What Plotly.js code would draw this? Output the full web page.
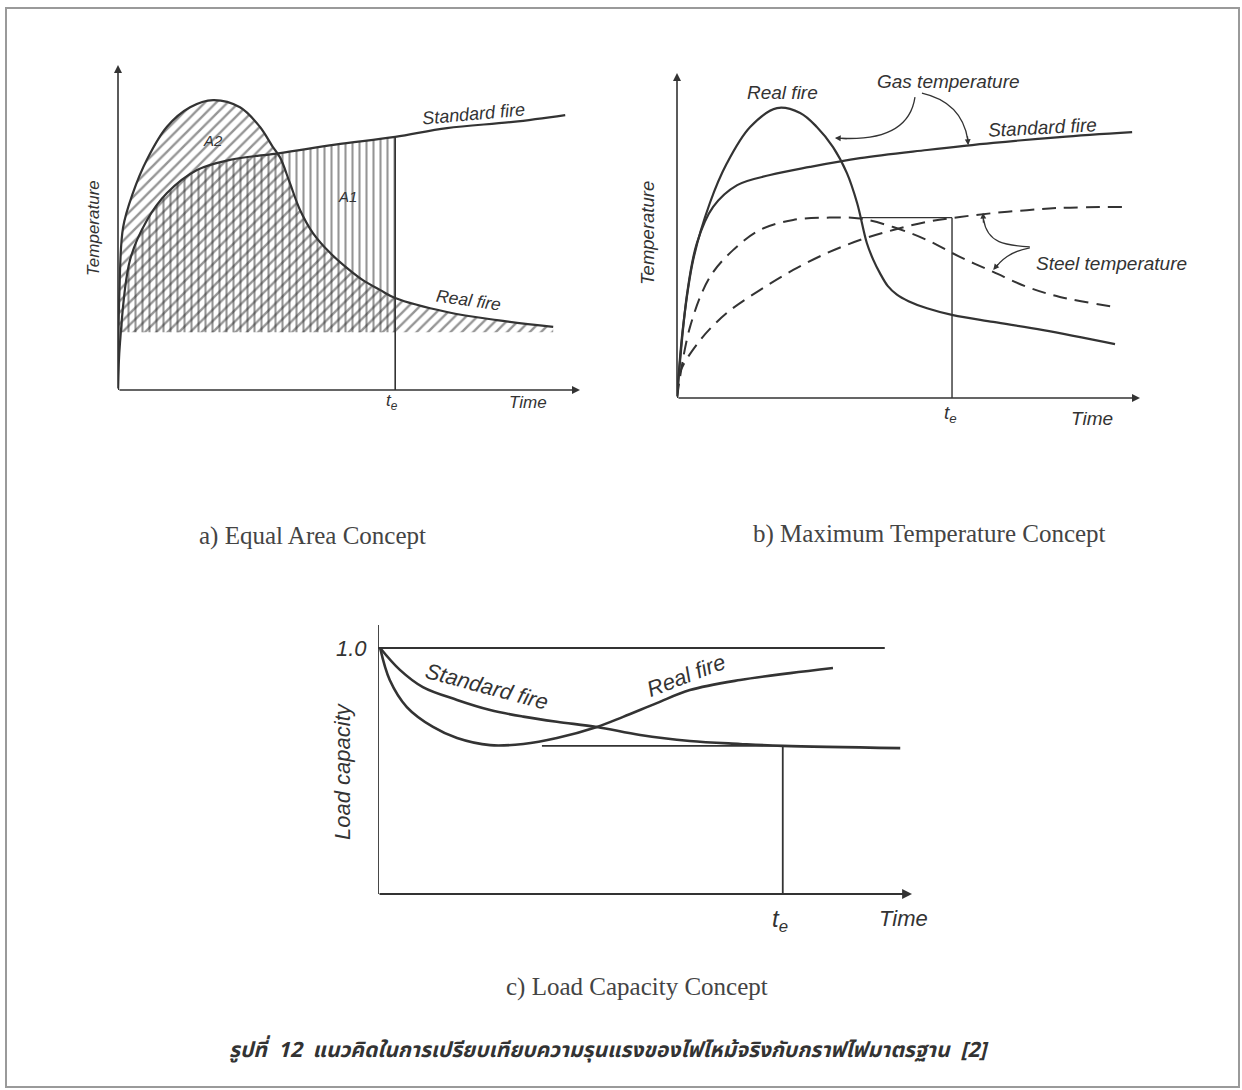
<!DOCTYPE html>
<html>
<head>
<meta charset="utf-8">
<script src="https://cdn.plot.ly/plotly-3.0.1.min.js"></script>
<style>html,body{margin:0;padding:0;background:#fff}</style>
</head>
<body>
<div id="chart" style="width:1242px;height:1090px"></div>
<script>
// ---------- a) Equal Area Concept (time 0-100, temperature 0-100) ----------
const aRealTime = [0, 0.3, 1.1, 3.2, 6.3, 10.6, 15.6, 20.6, 26.4, 30.7, 33.5, 35.1, 37.2, 39.4, 42.2, 45.9, 49.6, 53, 56.7, 60, 71.2, 82, 94.2];
const aRealTemp = [0, 30, 50, 60.5, 71, 81, 87, 89.2, 87, 81, 74.8, 71.5, 63.7, 55.4, 48.3, 42.2, 37.5, 33.8, 30.8, 28.3, 24, 21.5, 19.4];
const aStdTime  = [0, 0.43, 2.6, 6.3, 10.6, 17.1, 24.2, 35.1, 47, 60, 71.2, 85.5, 96.8];
const aStdTemp  = [0, 14.5, 40, 52.3, 60.6, 67.7, 70.8, 72.9, 75.5, 77.9, 80.6, 82.5, 84.6];
const aTe = 60;
const aHatchBase = 17.8;

// ---------- b) Maximum Temperature Concept ----------
const bRealTime = [0, 1.3, 3.5, 7.1, 10.8, 15.8, 21.6, 26.6, 30.2, 33.7, 36.7, 38.9, 41, 42.4, 43.8, 45.5, 47.5, 50, 54, 59.6, 68.3, 79.1, 94.6];
const bRealTemp = [0, 21.8, 42.5, 60, 72.3, 83.4, 89.2, 87.7, 83.4, 77.2, 69.2, 60, 47.7, 42.5, 38.5, 34.5, 31.8, 29.8, 27.6, 25.5, 23.4, 20.9, 16.6];
const bStdTime  = [0, 2.2, 4.3, 7.8, 13, 20.1, 28.7, 39.5, 54, 68.3, 82.7, 98.3];
const bStdTemp  = [0, 32.3, 47.7, 58.8, 65.5, 68.6, 71.1, 73.8, 76.3, 78.5, 80.3, 81.8];
const bSteelRealTime = [0, 2.8, 7.1, 12.1, 17.9, 25.1, 32.4, 39.5, 46.7, 54, 61.1, 68.3, 75.6, 82.7, 94.6];
const bSteelRealTemp = [0, 21.8, 37.2, 45.5, 51.7, 54.8, 55.5, 55.2, 52.6, 48.6, 43.4, 38.8, 34.2, 31.1, 28];
const bSteelStdTime  = [0, 0.6, 5, 10.8, 17.9, 25.1, 32.4, 39.5, 46.7, 54, 61.1, 68.3, 75.6, 82.7, 96.8];
const bSteelStdTemp  = [0, 7.7, 17.8, 26.2, 33.2, 39.4, 44.6, 48.6, 51.7, 54.2, 55.7, 56.9, 57.8, 58.5, 58.8];
const bTe = 59.4;
const bSteelMax = 55.5;
const bSteelMaxFrom = 39.5;

// ---------- c) Load Capacity Concept ----------
const cStdTime  = [0.4, 4.1, 8.4, 14.8, 21, 27.2, 33.5, 41, 49.1, 58.4, 67.8, 75.8, 97.8];
const cStdLoad  = [1.0, 0.911, 0.841, 0.789, 0.748, 0.721, 0.700, 0.679, 0.646, 0.622, 0.610, 0.602, 0.593];
const cRealTime = [0.4, 2.2, 5.4, 10.3, 14.8, 21, 27.2, 33.5, 41, 45.9, 52.2, 58.4, 67.8, 77.2, 85.2];
const cRealLoad = [1.0, 0.87, 0.76, 0.679, 0.634, 0.605, 0.61, 0.634, 0.679, 0.72, 0.776, 0.829, 0.87, 0.898, 0.919];
const cRef = 1.0, cRefEnd = 94.9;
const cTe = 75.8, cMinLoad = 0.602, cMinFrom = 30.7;

// ---------- helpers ----------
const W = 1242, H = 1090;
const INK = '#333';
const SANS = 'Liberation Sans, Arial, Helvetica, sans-serif';
const SERIF = 'Liberation Serif, Times New Roman, serif';
const dom = (p0, p1, total, flip) => flip ? [1 - p1 / total, 1 - p0 / total] : [p0 / total, p1 / total];

function line(xa, ya, xs, ys, opts) {
  return Object.assign({type: 'scatter', mode: 'lines', x: xs, y: ys, xaxis: xa, yaxis: ya,
    line: {color: INK, width: 2.2, shape: 'spline', smoothing: 1}, hoverinfo: 'skip', showlegend: false}, opts || {});
}
function crossX(xs, ys, base) {
  for (let i = 1; i < xs.length; i++) {
    if (ys[i - 1] < base && ys[i] >= base) {
      return xs[i - 1] + (base - ys[i - 1]) * (xs[i] - xs[i - 1]) / (ys[i] - ys[i - 1]);
    }
  }
  return xs[0];
}
function hatch(xa, ya, xs, ys, base, xmax, shape, size) {
  const px = [], py = [];
  xs.forEach((x, i) => { if (ys[i] >= base && x <= xmax) { px.push(x); py.push(ys[i]); } });
  const x0 = crossX(xs, ys, base);
  const baseTrace = {type: 'scatter', mode: 'lines', x: [x0, px[px.length - 1]], y: [base, base],
    xaxis: xa, yaxis: ya, line: {width: 0, color: 'rgba(0,0,0,0)'}, hoverinfo: 'skip', showlegend: false};
  const fillTrace = {type: 'scatter', mode: 'lines', x: [x0].concat(px), y: [base].concat(py),
    xaxis: xa, yaxis: ya, line: {width: 0, color: 'rgba(0,0,0,0)', shape: 'spline', smoothing: 1},
    fill: 'tonexty', fillcolor: 'rgba(0,0,0,0)',
    fillpattern: {shape: shape, fgcolor: '#2c2c2c', bgcolor: 'rgba(0,0,0,0)', size: size, solidity: 0.3, fillmode: 'overlay'},
    hoverinfo: 'skip', showlegend: false};
  return [baseTrace, fillTrace];
}
function txt(text, px, py, size, opts) {
  return Object.assign({xref: 'paper', yref: 'paper', x: px / W, y: 1 - py / H, text: text, showarrow: false,
    xanchor: 'center', yanchor: 'middle',
    font: {family: SANS, size: size, color: INK, style: 'italic'}}, opts || {});
}
function arrow(xa, ya, x0, y0, x1, y1, size, width) {
  return {xref: xa, yref: ya, axref: xa, ayref: ya, x: x1, y: y1, ax: x0, ay: y0, text: '',
    showarrow: true, arrowhead: 2, arrowsize: size || 1, arrowwidth: width || 1.6, arrowcolor: INK,
    standoff: 0, startstandoff: 0};
}
const serifFont = {family: SERIF, size: 25, color: '#444'};

// ---------- traces ----------
const aStdAtTe = aStdTemp[aStdTime.indexOf(aTe)];
const traces = []
  .concat(hatch('x', 'y', aRealTime, aRealTemp, aHatchBase, 1000, '/', 8))
  .concat(hatch('x', 'y', aStdTime, aStdTemp, aHatchBase, aTe, '|', 7))
  .concat([
    line('x', 'y', aRealTime, aRealTemp),
    line('x', 'y', aStdTime, aStdTemp),
    line('x', 'y', [aTe, aTe], [0, aStdAtTe], {line: {color: INK, width: 1.6}}),

    line('x2', 'y2', bRealTime, bRealTemp),
    line('x2', 'y2', bStdTime, bStdTemp),
    line('x2', 'y2', bSteelRealTime, bSteelRealTemp, {line: {color: INK, width: 2, shape: 'spline', dash: '14px,8px'}}),
    line('x2', 'y2', bSteelStdTime, bSteelStdTemp, {line: {color: INK, width: 2, shape: 'spline', dash: '14px,8px'}}),
    line('x2', 'y2', [bSteelMaxFrom, bTe], [bSteelMax, bSteelMax], {line: {color: INK, width: 1.4}}),
    line('x2', 'y2', [bTe, bTe], [0, bSteelMax], {line: {color: INK, width: 1.4}}),

    line('x3', 'y3', [0, cRefEnd], [cRef, cRef], {line: {color: INK, width: 1.8}}),
    line('x3', 'y3', cStdTime, cStdLoad, {line: {color: INK, width: 2.6, shape: 'spline'}}),
    line('x3', 'y3', cRealTime, cRealLoad, {line: {color: INK, width: 2.6, shape: 'spline'}}),
    line('x3', 'y3', [cMinFrom, cTe], [cMinLoad, cMinLoad], {line: {color: INK, width: 1.8}}),
    line('x3', 'y3', [cTe, cTe], [0, cMinLoad], {line: {color: INK, width: 1.8}})
  ]);

const hidden = {visible: false, fixedrange: true};
const layout = {
  width: W, height: H, margin: {l: 0, r: 0, t: 0, b: 0},
  paper_bgcolor: '#ffffff', plot_bgcolor: 'rgba(0,0,0,0)', showlegend: false,
  xaxis:  Object.assign({domain: dom(118, 580, W), range: [0, 100], anchor: 'y'}, hidden),
  yaxis:  Object.assign({domain: dom(65, 390, H, true), range: [0, 100], anchor: 'x'}, hidden),
  xaxis2: Object.assign({domain: dom(677, 1140, W), range: [0, 100], anchor: 'y2'}, hidden),
  yaxis2: Object.assign({domain: dom(73, 398, H, true), range: [0, 100], anchor: 'x2'}, hidden),
  xaxis3: Object.assign({domain: dom(378, 912, W), range: [0, 100], anchor: 'y3'}, hidden),
  yaxis3: Object.assign({domain: dom(625, 894, H, true), range: [0, 1.0935], anchor: 'x3'}, hidden),
  shapes: [
    {type: 'rect', xref: 'paper', yref: 'paper', x0: 6 / W, x1: 1239 / W, y0: 1 - 1087 / H, y1: 1 - 8 / H,
      line: {color: '#9a9a9a', width: 2}, fillcolor: 'rgba(0,0,0,0)'},
    {type: 'line', xref: 'x3', yref: 'y3', x0: 0, y0: 0, x1: 0, y1: 1.0935, line: {color: INK, width: 1.8}},
    // leader lines in b)
    {type: 'path', xref: 'x2', yref: 'y2', path: 'M 51.4,92.6 Q 50,79 35.5,79.9', line: {color: INK, width: 1.3}},
    {type: 'path', xref: 'x2', yref: 'y2', path: 'M 52.9,93.8 Q 61.5,91 62.8,79.5', line: {color: INK, width: 1.3}},
    {type: 'path', xref: 'x2', yref: 'y2', path: 'M 76.2,46.5 C 71,47 67,47.5 66.2,55', line: {color: INK, width: 1.3}},
    {type: 'path', xref: 'x2', yref: 'y2', path: 'M 76.2,46.2 Q 71.5,45 69,40.5', line: {color: INK, width: 1.3}}
  ],
  annotations: [
    // axes
    arrow('x', 'y', 0, 0, 100, 0), arrow('x', 'y', 0, 0, 0, 100),
    arrow('x2', 'y2', 0, 0, 100, 0), arrow('x2', 'y2', 0, 0, 0, 100),
    arrow('x3', 'y3', 0, 0, 100, 0, 1.1, 1.8),
    // leader arrowheads b)
    arrow('x2', 'y2', 37, 79.8, 34.1, 80, 0.9, 1.3),
    arrow('x2', 'y2', 62.7, 81, 62.9, 77.8, 0.9, 1.3),
    arrow('x2', 'y2', 66.2, 53.5, 66.1, 57, 0.9, 1.3),
    arrow('x2', 'y2', 69.6, 41.6, 68.3, 39.4, 0.9, 1.3),
    // a) labels
    txt('Standard fire', 473, 114, 18, {textangle: -5}),
    txt('A2', 213, 140, 15),
    txt('A1', 347, 197, 15),
    txt('Real fire', 468, 300, 17.5, {textangle: 8}),
    txt('Temperature', 93, 228, 17, {textangle: -90}),
    txt('t<sub>e</sub>', 392, 402, 17),
    txt('Time', 528, 403, 17),
    // b) labels
    txt('Gas temperature', 949, 82, 19),
    txt('Real fire', 782, 93, 19),
    txt('Standard fire', 1042, 127, 19, {textangle: -3}),
    txt('Steel temperature', 1111, 263, 19),
    txt('Temperature', 648, 233, 18.5, {textangle: -90}),
    txt('t<sub>e</sub>', 950, 414, 19),
    txt('Time', 1092, 419, 19),
    // c) labels
    txt('1.0', 369, 648, 22, {xanchor: 'right'}),
    txt('Standard fire', 487, 686, 22, {textangle: 15}),
    txt('Real fire', 686, 675, 22, {textangle: -21}),
    txt('Load capacity', 342, 771, 22, {textangle: -90}),
    txt('t<sub>e</sub>', 780, 920, 24),
    txt('Time', 903, 918, 22),
    // captions
    txt('a) Equal Area Concept', 312, 536, 25, {font: serifFont}),
    txt('b) Maximum Temperature Concept', 929, 534, 25, {font: serifFont}),
    txt('c) Load Capacity Concept', 637, 987, 25, {font: serifFont}),
    txt('รูปที่  12  แนวคิดในการเปรียบเทียบความรุนแรงของไฟไหม้จริงกับกราฟไฟมาตรฐาน  [2]', 609, 1050, 21,
      {font: {family: 'Noto Sans Thai, Loma, Garuda, Tlwg Typo, DejaVu Sans, sans-serif', size: 21, color: '#333',
        style: 'italic', weight: 'bold'}})
  ]
};

Plotly.newPlot('chart', traces, layout, {staticPlot: true, displayModeBar: false});
</script>
</body>
</html>
